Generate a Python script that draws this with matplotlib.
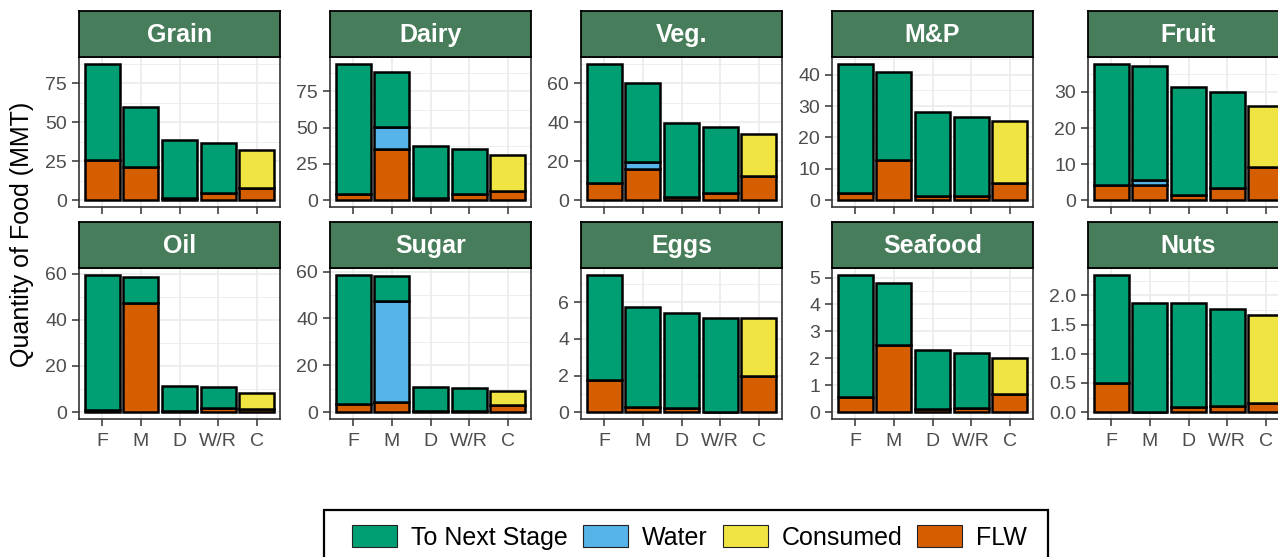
import matplotlib
matplotlib.use("Agg")
import matplotlib.pyplot as plt
from matplotlib.patches import Patch, Rectangle
import numpy as np

plt.rcParams["font.family"] = ["Liberation Sans", "DejaVu Sans"]

stages = ["F", "M", "D", "W/R", "C"]
commodities = ["Grain", "Dairy", "Veg.", "M&P", "Fruit",
               "Oil", "Sugar", "Eggs", "Seafood", "Nuts"]

# food loss and waste at each stage (MMT)
flw = {
    "Grain":   [26.0, 21.0, 1.5, 4.5, 8.0],
    "Dairy":   [4.0, 35.5, 1.5, 4.5, 6.5],
    "Veg.":    [9.0, 16.0, 1.5, 3.5, 12.5],
    "M&P":     [2.2, 12.8, 1.4, 1.4, 5.6],
    "Fruit":   [4.2, 4.3, 1.5, 3.5, 9.2],
    "Oil":     [1.0, 47.3, 0.5, 2.0, 1.2],
    "Sugar":   [3.4, 4.3, 0.5, 0.5, 3.1],
    "Eggs":    [1.75, 0.3, 0.25, 0.02, 1.95],
    "Seafood": [0.55, 2.5, 0.1, 0.17, 0.68],
    "Nuts":    [0.5, 0.005, 0.08, 0.1, 0.16],
}
# water removed during processing
water = {
    "Grain":   [0, 0, 0, 0, 0],
    "Dairy":   [0, 15.2, 0, 0, 0],
    "Veg.":    [0, 3.5, 0, 0, 0],
    "M&P":     [0, 0, 0, 0, 0],
    "Fruit":   [0, 1.3, 0, 0, 0],
    "Oil":     [0, 0, 0, 0, 0],
    "Sugar":   [0, 43.2, 0, 0, 0],
    "Eggs":    [0, 0, 0, 0, 0],
    "Seafood": [0, 0, 0, 0, 0],
    "Nuts":    [0, 0, 0, 0, 0],
}
# passed on to the next stage (consumed at the last stage)
onward = {
    "Grain":   [61.5, 39.0, 37.0, 32.0, 24.5],
    "Dairy":   [90.0, 37.5, 36.0, 30.5, 24.5],
    "Veg.":    [61.0, 40.5, 38.0, 34.0, 21.5],
    "M&P":     [41.3, 28.2, 26.6, 25.1, 19.6],
    "Fruit":   [33.6, 31.7, 30.0, 26.5, 17.0],
    "Oil":     [58.5, 11.2, 10.7, 8.7, 7.1],
    "Sugar":   [55.2, 10.6, 10.2, 9.7, 6.0],
    "Eggs":    [5.75, 5.45, 5.15, 5.11, 3.18],
    "Seafood": [4.55, 2.3, 2.22, 2.03, 1.32],
    "Nuts":    [1.85, 1.855, 1.78, 1.66, 1.5],
}
tick_step = {"Grain": 25, "Dairy": 25, "Veg.": 20, "M&P": 10, "Fruit": 10,
             "Oil": 20, "Sugar": 20, "Eggs": 2, "Seafood": 1, "Nuts": 0.5}

C_NEXT, C_WATER, C_CONS, C_FLW = "#009E73", "#56B4E9", "#F0E442", "#D55E00"
STRIP = "#477D5A"

W, H = 1278, 557
fig = plt.figure(figsize=(W / 100, H / 100), dpi=100)

def px_axes(left, top, width, height):
    return fig.add_axes([left / W, 1 - (top + height) / H, width / W, height / H])

lefts = [79, 330, 581, 832, 1088]
rows = [(11, 57, 207), (222, 268, 419)]   # strip top, panel top, panel bottom
pw = 201
x = np.arange(1, 6)

for i, name in enumerate(commodities):
    r, c = divmod(i, 5)
    s_top, p_top, p_bot = rows[r]
    ax = px_axes(lefts[c], p_top, pw, p_bot - p_top)

    f = np.array(flw[name])
    wt = np.array(water[name])
    on = np.array(onward[name])
    total = f + wt + on
    ymax = total.max()

    ax.bar(x, f, width=0.9, color=C_FLW, edgecolor="black", linewidth=1.8, zorder=3)
    m = wt > 0
    ax.bar(x[m], wt[m], bottom=f[m], width=0.9, color=C_WATER,
           edgecolor="black", linewidth=1.8, zorder=3)
    top_colors = [C_NEXT] * 4 + [C_CONS]
    ax.bar(x, on, bottom=f + wt, width=0.9, color=top_colors,
           edgecolor="black", linewidth=1.8, zorder=3)

    ax.set_xlim(0.4, 5.6)
    ax.set_ylim(-0.05 * ymax, 1.05 * ymax)
    step = tick_step[name]
    ticks = np.arange(0, 1.05 * ymax, step)
    ax.set_yticks(ticks)
    ax.set_yticks(np.arange(step / 2, 1.05 * ymax, step), minor=True)
    if step < 1:
        ax.set_yticklabels([f"{t:.1f}" for t in ticks])
    else:
        ax.set_yticklabels([f"{t:g}" for t in ticks])
    ax.set_xticks(x)
    if r == 1:
        ax.set_xticklabels(stages)
    else:
        ax.tick_params(axis="x", length=0, labelbottom=False)

    ax.grid(which="major", color="#EBEBEB", linewidth=1.2, zorder=0)
    ax.grid(which="minor", axis="y", color="#EBEBEB", linewidth=0.6, zorder=0)
    ax.set_axisbelow(True)
    ax.tick_params(axis="both", which="major", labelsize=14, colors="#333333",
                   labelcolor="#4D4D4D", length=5, width=1.1, pad=3.5)
    ax.tick_params(axis="x", which="major", pad=5)
    ax.tick_params(axis="y", which="minor", length=0)
    for sp in ax.spines.values():
        sp.set_color("#333333")
        sp.set_linewidth(1.2)

    sax = px_axes(lefts[c], s_top, pw, p_top - s_top)
    sax.set_facecolor(STRIP)
    sax.set_xticks([])
    sax.set_yticks([])
    for sp in sax.spines.values():
        sp.set_color("black")
        sp.set_linewidth(1.3)
    sax.text(0.5, 0.47, name, ha="center", va="center", color="white",
             fontsize=18, fontweight="bold", transform=sax.transAxes)

fig.text(22 / W, 1 - 234 / H, "Quantity of Food (MMT)", rotation=90,
         ha="center", va="center", fontsize=18)

# legend box runs off the bottom edge of the figure
fig.patches.append(Rectangle((324 / W, -0.05), (1048 - 324) / W, 1 - 510 / H + 0.05,
                             transform=fig.transFigure, facecolor="white",
                             edgecolor="black", linewidth=1.6))
handles = [Patch(facecolor=C_NEXT, edgecolor="#222222", linewidth=0.8, label="To Next Stage"),
           Patch(facecolor=C_WATER, edgecolor="#222222", linewidth=0.8, label="Water"),
           Patch(facecolor=C_CONS, edgecolor="#222222", linewidth=0.8, label="Consumed"),
           Patch(facecolor=C_FLW, edgecolor="#222222", linewidth=0.8, label="FLW")]
fig.legend(handles=handles, ncol=4, loc="upper left",
           bbox_to_anchor=(352 / W, 1 - 525 / H), fontsize=18,
           frameon=False, handlelength=1.8, handleheight=1.0,
           handletextpad=0.56, columnspacing=0.6, borderpad=0, borderaxespad=0)

fig.savefig("out.png", dpi=100)
